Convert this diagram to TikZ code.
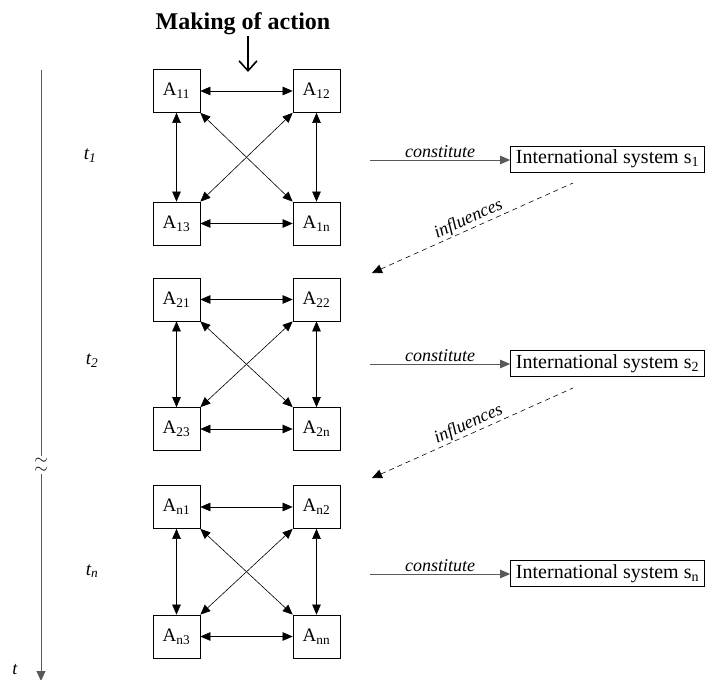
\documentclass[tikz,border=0pt]{standalone}
\usepackage{fontspec}
\setmainfont{Liberation Serif}
\usepackage{tikz}
\usetikzlibrary{arrows.meta}

\begin{document}
\begin{tikzpicture}[x=1pt,y=-1pt,
	actor/.style={draw,line width=0.7pt,minimum width=47pt,minimum height=43pt,inner sep=0pt,font=\fontsize{19}{22}\selectfont},
	sysbox/.style={draw,line width=0.7pt,minimum width=194pt,minimum height=26pt,inner sep=3pt,font=\fontsize{20}{23}\selectfont},
	link/.style={{Triangle[length=10pt,width=8.5pt]}-{Triangle[length=10pt,width=8.5pt]},line width=0.6pt},
	makes/.style={-{Triangle[length=10pt,width=8.5pt]},line width=1pt,color=black!65},
	infl/.style={{Triangle[length=10pt,width=9pt]}-,dashed,dash pattern=on 5pt off 4pt,line width=0.6pt},
	lbl/.style={font=\fontsize{18}{20}\selectfont\itshape}]
\useasboundingbox (0,0) rectangle (705,680);

% title
\node [font=\fontsize{24}{26}\selectfont\bfseries] (title) at (243,24) {Making of action};
\coordinate (mk) at (248,36);
\coordinate (mke) at (248,72);
\draw [-{Straight Barb[length=10pt,width=18pt]},line width=1.6pt] (mk) -- (mke);

% time axis
\coordinate (ttop) at (41,70);
\coordinate (tbrk) at (41,456);
\node [inner sep=0pt,font=\fontsize{16}{16}\selectfont] (sim1) at (41,461) {$\sim$};
\node [inner sep=0pt,font=\fontsize{16}{16}\selectfont] (sim2) at (41,470) {$\sim$};
\coordinate (tgo) at (41,474);
\coordinate (tend) at (41,681);
\draw [line width=1pt,color=black!65] (ttop) -- (tbrk);
\draw [-{Triangle[length=10pt,width=9pt]},line width=1pt,color=black!65] (tgo) -- (tend);
\node [lbl] (t) at (15,670) {t};
\node [lbl,font=\fontsize{19}{21}\selectfont\itshape] (t1) at (90,156) {t\textsubscript{1}};
\node [lbl,font=\fontsize{19}{21}\selectfont\itshape] (t2) at (92,361) {t\textsubscript{2}};
\node [lbl,font=\fontsize{19}{21}\selectfont\itshape] (tn) at (92,571) {t\textsubscript{n}};

% actors at t1
\node [actor] (a11) at (176.5,91) {A\textsubscript{11}};
\node [actor] (a12) at (316.5,91) {A\textsubscript{12}};
\node [actor] (a13) at (176.5,223.5) {A\textsubscript{13}};
\node [actor] (a1n) at (316.5,223.5) {A\textsubscript{1n}};
\draw [link] (a11) -- (a12);
\draw [link] (a13) -- (a1n);
\draw [link] (a11) -- (a13);
\draw [link] (a12) -- (a1n);
\draw [link] (a11.south east) -- (a1n.north west);
\draw [link] (a12.south west) -- (a13.north east);

% actors at t2
\node [actor] (a21) at (176.5,299.5) {A\textsubscript{21}};
\node [actor] (a22) at (316.5,299.5) {A\textsubscript{22}};
\node [actor] (a23) at (176.5,429) {A\textsubscript{23}};
\node [actor] (a2n) at (316.5,429) {A\textsubscript{2n}};
\draw [link] (a21) -- (a22);
\draw [link] (a23) -- (a2n);
\draw [link] (a21) -- (a23);
\draw [link] (a22) -- (a2n);
\draw [link] (a21.south east) -- (a2n.north west);
\draw [link] (a22.south west) -- (a23.north east);

% actors at tn
\node [actor] (an1) at (176.5,507) {A\textsubscript{n1}};
\node [actor] (an2) at (316.5,507) {A\textsubscript{n2}};
\node [actor] (an3) at (176.5,636.5) {A\textsubscript{n3}};
\node [actor] (ann) at (316.5,636.5) {A\textsubscript{nn}};
\draw [link] (an1) -- (an2);
\draw [link] (an3) -- (ann);
\draw [link] (an1) -- (an3);
\draw [link] (an2) -- (ann);
\draw [link] (an1.south east) -- (ann.north west);
\draw [link] (an2.south west) -- (an3.north east);

% international systems
\node [sysbox] (sys1) at (607.5,159) {International system s\textsubscript{1}};
\node [sysbox] (sys2) at (607.5,363.5) {International system s\textsubscript{2}};
\node [sysbox] (sysn) at (607.5,573.5) {International system s\textsubscript{n}};
\coordinate (c1) at (370,160);
\coordinate (c2) at (370,364);
\coordinate (cn) at (370,574);
\draw [makes] (c1) -- (c1 -| sys1.west) node [midway,above,lbl,color=black,inner sep=2pt] {constitute};
\draw [makes] (c2) -- (c2 -| sys2.west) node [midway,above,lbl,color=black,inner sep=2pt] {constitute};
\draw [makes] (cn) -- (cn -| sysn.west) node [midway,above,lbl,color=black,inner sep=2pt] {constitute};

% influences
\coordinate (f1) at (573,183);
\coordinate (f1e) at (372,273);
\coordinate (f2) at (573,388);
\coordinate (f2e) at (372,478);
\draw [infl] (f1e) -- (f1) node [midway,above,sloped,lbl,inner sep=1pt] {influences};
\draw [infl] (f2e) -- (f2) node [midway,above,sloped,lbl,inner sep=1pt] {influences};
\end{tikzpicture}
\end{document}
